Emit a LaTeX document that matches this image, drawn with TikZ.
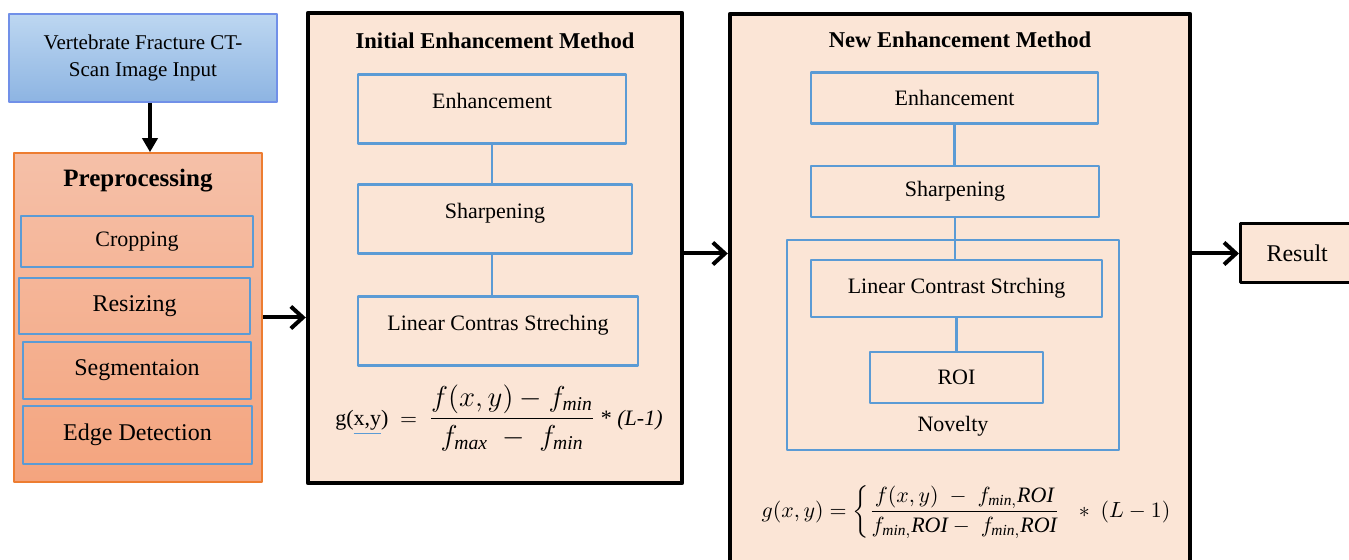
\documentclass[tikz,border=0pt]{standalone}
\usepackage{amsmath}
\usepackage{fontspec}
\setmainfont{Liberation Serif}
\usetikzlibrary{arrows.meta}
\definecolor{boxblue}{HTML}{5B9BD5}
\definecolor{inblueA}{HTML}{BDD7F1}
\definecolor{inblueB}{HTML}{8DB4E2}
\definecolor{preA}{HTML}{F5C0A8}
\definecolor{preB}{HTML}{F4A47E}
\definecolor{preline}{HTML}{ED7D31}
\definecolor{peach}{HTML}{FBE5D6}
\begin{document}
\begin{tikzpicture}[x=0.5pt,y=-0.5pt,line join=round,>={Straight Barb[length=6pt,width=11pt]}]
\tikzset{stepbox/.style={draw=boxblue,line width=1.4pt,inner sep=0pt,font=\fontsize{11}{13}\selectfont},
prebox/.style={stepbox,font=\fontsize{12}{14}\selectfont},
topbox/.style={stepbox,anchor=north,minimum height=34.5pt,text height=17pt,text depth=17.5pt},
methodbox/.style={draw=black,line width=2.2pt,fill=peach,inner sep=0pt},
link/.style={draw=boxblue,line width=1.4pt},
flow/.style={->,line width=2pt}}
\useasboundingbox (0,0) rectangle (1349,560);
\clip (0,0) rectangle (1349,560);
% input and preprocessing
\node[draw=inblueB!80!blue,line width=0.8pt,top color=inblueA,bottom color=inblueB,minimum width=134pt,minimum height=44pt,align=center,font=\fontsize{10.5}{13.5}\selectfont] (input) at (143,58) {Vertebrate Fracture CT-\\Scan Image Input};
\node[draw=preline,line width=0.8pt,top color=preA,bottom color=preB,minimum width=124pt,minimum height=164.5pt] (pre) at (138,317.5) {};
\node[font=\fontsize{12.5}{14}\selectfont\bfseries] (pretitle) at (138,181) {Preprocessing};
\node[stepbox,minimum width=116pt,minimum height=25.5pt] (crop) at (137,241.5) {Cropping};
\node[prebox,minimum width=115.5pt,minimum height=28pt] (resize) at (134.5,306) {Resizing};
\node[prebox,minimum width=114pt,minimum height=28.5pt] (segm) at (137,370.5) {Segmentaion};
\node[prebox,minimum width=114.5pt,minimum height=29pt] (edge) at (137.5,435) {Edge Detection};
% initial method
\node[methodbox,minimum width=187pt,minimum height=235pt] (init) at (495,248) {};
\node[font=\fontsize{11.3}{13}\selectfont\bfseries] (inittitle) at (495,41) {Initial Enhancement Method};
\node[topbox,minimum width=134pt] (enhA) at (492,73) {Enhancement};
\node[topbox,minimum width=137pt] (sharpA) at (495,183) {Sharpening};
\node[topbox,minimum width=140pt] (lcsA) at (498,295) {Linear Contras Streching};
\draw[link] (enhA.south) -- (enhA.south |- sharpA.north);
\draw[link] (enhA.south |- sharpA.south) -- (enhA.south |- lcsA.north);
\node[font=\fontsize{11}{13}\selectfont] (fA) at (499,418) {g({\color{boxblue}\underline{\color{black}x,y}}) $\;=\;$ {\fontsize{14}{16}\selectfont$\dfrac{f(x,y)-f_{\mathit{min}}}{f_{\mathit{max}}\;-\;f_{\mathit{min}}}$} * \textit{(L-1)}};
% new method
\node[methodbox,minimum width=230pt,minimum height=320pt] (new) at (960,334) {};
\node[font=\fontsize{11.3}{13}\selectfont\bfseries] (newtitle) at (960,40) {New Enhancement Method};
\node[stepbox,minimum width=143.5pt,minimum height=25.5pt] (enhB) at (954.5,98) {Enhancement};
\node[stepbox,minimum width=144pt,minimum height=25.5pt] (sharpB) at (955,191.5) {Sharpening};
\node[stepbox,minimum width=166pt,minimum height=105pt] (novel) at (953,345) {};
\node[stepbox,minimum width=145.5pt,minimum height=28.5pt] (lcsB) at (956.5,288.5) {Linear Contrast Strching};
\node[stepbox,minimum width=86.5pt,minimum height=25.5pt] (roi) at (956.5,377.5) {ROI};
\node[font=\fontsize{11}{13}\selectfont] (novtext) at (953,426) {Novelty};
\draw[link] (enhB.south) -- (enhB.south |- sharpB.north);
\draw[link] (sharpB.south) -- (sharpB.south |- lcsB.north);
\draw[link] (lcsB.south) -- (lcsB.south |- roi.north);
\node[font=\fontsize{11}{14}\selectfont] (fB) at (966,512) {$g(x,y)=\left\{\dfrac{f(x,y)\;-\;f_{\mathit{min},}\mathit{ROI}}{f_{\mathit{min},}\mathit{ROI}-\;f_{\mathit{min},}\mathit{ROI}}\right.\;\;*\;(L-1)$};
% result
\node[draw=black,line width=1.5pt,fill=peach,anchor=west,inner xsep=13pt,text width=60pt,minimum height=29.5pt,font=\fontsize{12}{14}\selectfont] (res) at (1239,253.5) {Result};
% arrows
\draw[line width=2pt,-{Triangle[length=7pt,width=7.5pt]}] (input.south -| 150,0) -- (pre.north -| 150,0);
\draw[flow] (pre.east) -- (pre.east -| init.west);
\draw[flow] (init.east |- res) -- (new.west |- res);
\draw[flow] (new.east |- res) -- (res.west);
\end{tikzpicture}
\end{document}
